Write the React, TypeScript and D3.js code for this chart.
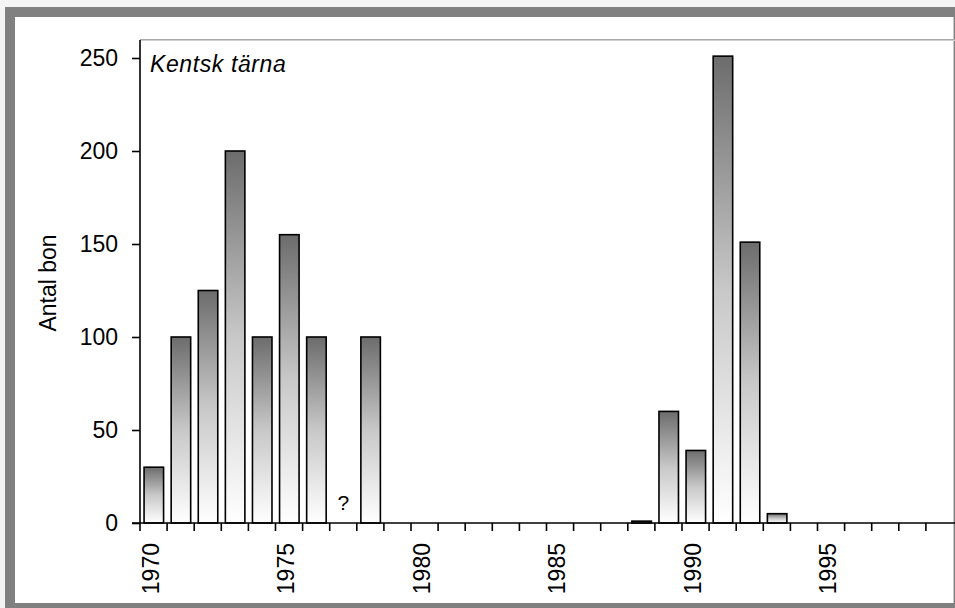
import React, { useEffect, useRef } from 'react';
import * as d3 from 'd3';

// Antal bon per år (null = okänt)
const years: number[] = d3.range(1970, 2000);
const values: (number | null)[] = [
  30, 100, 125, 200, 100, 155, 100, null, 100, 0,
  0, 0, 0, 0, 0, 0, 0, 0, 1, 60,
  39, 251, 151, 5, 0, 0, 0, 0, 0, 0,
];
const yTicks = [0, 50, 100, 150, 200, 250];
const xLabelYears = [1970, 1975, 1980, 1985, 1990, 1995];
const title = 'Kentsk tärna';
const yTitle = 'Antal bon';

const App: React.FC = () => {
  const svgRef = useRef<SVGSVGElement>(null);

  useEffect(() => {
    if (!svgRef.current) return;
    const svg = d3.select(svgRef.current);
    svg.selectAll('*').remove();

    const width = 955;
    const height = 608;
    const left = 140, right = 953, top = 40, bottom = 523;
    const font = "'Liberation Sans', Arial, sans-serif";

    // frame
    svg.append('rect').attr('x', 0).attr('y', 0).attr('width', width).attr('height', height).attr('fill', '#f4f4f4');
    svg.append('rect').attr('x', 5).attr('y', 7).attr('width', width - 5).attr('height', height - 7).attr('fill', '#808080');
    svg.append('rect').attr('x', 15).attr('y', 17).attr('width', right - 15).attr('height', 603 - 17).attr('fill', '#fff');
    svg.append('line').attr('x1', right + 0.5).attr('x2', right + 0.5).attr('y1', 17).attr('y2', 603)
      .attr('stroke', '#c8c8c8').attr('stroke-width', 1);

    const defs = svg.append('defs');
    const grad = defs.append('linearGradient').attr('id', 'barGrad')
      .attr('x1', 0).attr('y1', 0).attr('x2', 0).attr('y2', 1);
    grad.append('stop').attr('offset', '0%').attr('stop-color', '#6c6c6c');
    grad.append('stop').attr('offset', '50%').attr('stop-color', '#c8c8c8');
    grad.append('stop').attr('offset', '100%').attr('stop-color', '#ffffff');

    const x = d3.scaleBand<number>().domain(years).range([left, right]).paddingInner(0).paddingOuter(0);
    const y = d3.scaleLinear().domain([0, 250]).range([bottom, 58]);
    const step = x.step();

    // plot top border
    svg.append('line').attr('x1', left).attr('x2', width).attr('y1', top - 0.5).attr('y2', top - 0.5)
      .attr('stroke', '#a8a8a8').attr('stroke-width', 1);
    svg.append('line').attr('x1', left).attr('x2', width).attr('y1', top + 0.5).attr('y2', top + 0.5)
      .attr('stroke', '#d0d0d0').attr('stroke-width', 1);

    // bars
    const data = years.map((yr, i) => ({ yr, v: values[i] }));
    svg.append('g').selectAll('rect')
      .data(data.filter(d => d.v !== null && d.v > 0))
      .join('rect')
      .attr('x', d => (x(d.yr) as number) + step * 0.15)
      .attr('width', step * 0.72)
      .attr('y', d => y(d.v as number))
      .attr('height', d => bottom - y(d.v as number))
      .attr('fill', 'url(#barGrad)')
      .attr('stroke', '#000')
      .attr('stroke-width', 1.6);

    // unknown marker
    svg.append('g').selectAll('text')
      .data(data.filter(d => d.v === null))
      .join('text')
      .attr('x', d => (x(d.yr) as number) + step / 2)
      .attr('y', bottom - 13)
      .attr('text-anchor', 'middle')
      .style('font', `21px ${font}`)
      .attr('fill', '#000')
      .text('?');

    // y axis
    const yAxis = svg.append('g').attr('transform', `translate(${left},0)`)
      .call(d3.axisLeft(y).tickValues(yTicks).tickSize(8).tickPadding(14));
    yAxis.select('.domain').remove();
    yAxis.selectAll('line').attr('stroke', '#000').attr('stroke-width', 1.6);
    yAxis.selectAll('text').style('font', `23px ${font}`).attr('fill', '#000');
    svg.append('line').attr('x1', left).attr('x2', left).attr('y1', top).attr('y2', bottom + 8)
      .attr('stroke', '#000').attr('stroke-width', 1.6);

    // x axis
    svg.append('line').attr('x1', left - 8).attr('x2', width).attr('y1', bottom).attr('y2', bottom)
      .attr('stroke', '#000').attr('stroke-width', 1.6);
    svg.append('g').selectAll('line')
      .data(years.slice(1))
      .join('line')
      .attr('x1', d => x(d) as number)
      .attr('x2', d => x(d) as number)
      .attr('y1', bottom)
      .attr('y2', bottom + 8)
      .attr('stroke', '#000')
      .attr('stroke-width', 1.6);
    svg.append('g').selectAll('text')
      .data(xLabelYears)
      .join('text')
      .attr('transform', d => `translate(${(x(d) as number) + step / 2 - 3},${bottom + 20}) rotate(-90)`)
      .attr('text-anchor', 'end')
      .attr('dy', '0.35em')
      .style('font', `23px ${font}`)
      .attr('fill', '#000')
      .text(d => String(d));

    // titles
    svg.append('text')
      .attr('x', 150).attr('y', 72)
      .style('font', `italic 23px ${font}`)
      .style('letter-spacing', '0.6px')
      .attr('fill', '#000')
      .text(title);
    svg.append('text')
      .attr('transform', `translate(56,283) rotate(-90)`)
      .attr('text-anchor', 'middle')
      .style('font', `23px ${font}`)
      .attr('fill', '#000')
      .text(yTitle);
  }, []);

  return (
    <div style={{ position: 'absolute', left: 0, top: 0, width: 955, height: 608 }}>
      <svg ref={svgRef} width={955} height={608} style={{ display: 'block' }} />
    </div>
  );
};

export default App;
